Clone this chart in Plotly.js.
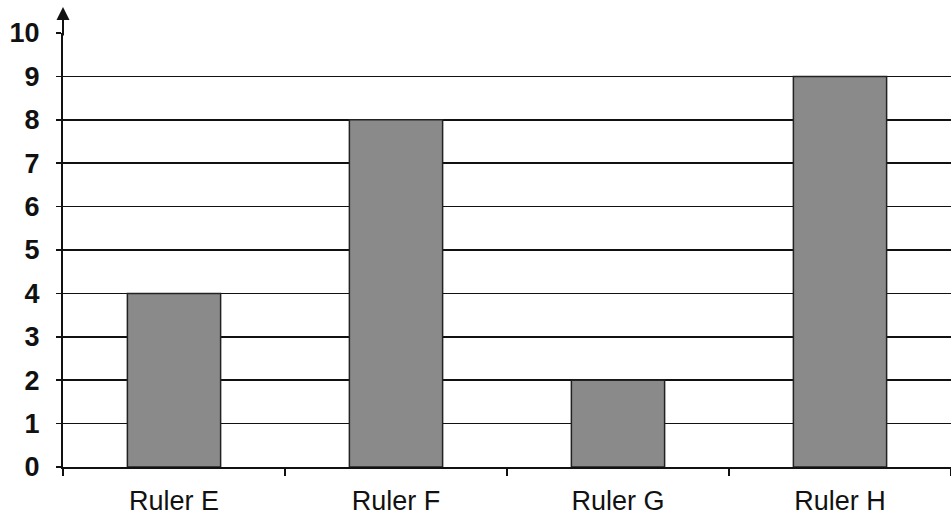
<!DOCTYPE html>
<html>
<head>
<meta charset="utf-8">
<script src="https://cdn.plot.ly/plotly-3.0.1.min.js"></script>
<style>html,body{margin:0;padding:0;background:#fff;}#chart{width:951px;height:527px;}</style>
</head>
<body>
<div id="chart"></div>
<script>
const categories = ["Ruler E", "Ruler F", "Ruler G", "Ruler H"];
const values = [4, 8, 2, 9];
const yTickVals = [0, 1, 2, 3, 4, 5, 6, 7, 8, 9, 10];

const trace = {
  type: "bar",
  x: categories,
  y: values,
  marker: { color: "#8a8a8a", line: { color: "#222", width: 1.5 } },
  hoverinfo: "skip"
};

const layout = {
  width: 951,
  height: 527,
  margin: { l: 63, r: 0, t: 33, b: 60 },
  paper_bgcolor: "#fff",
  plot_bgcolor: "#fff",
  bargap: 0.58,
  showlegend: false,
  font: { family: "Liberation Sans, Arial, sans-serif", color: "#111" },
  xaxis: {
    type: "category",
    showline: true,
    linecolor: "#111",
    linewidth: 2,
    ticks: "outside",
    tickson: "boundaries",
    ticklen: 7,
    tickwidth: 1.5,
    tickcolor: "#111",
    showgrid: false,
    tickfont: { size: 27, family: "Liberation Sans, Arial, sans-serif", color: "#111" },
    ticklabelstandoff: 9
  },
  yaxis: {
    range: [0, 10],
    tickvals: yTickVals,
    ticktext: yTickVals.map(String),
    showline: true,
    linecolor: "#111",
    linewidth: 2,
    ticks: "outside",
    ticklen: 5,
    tickwidth: 1.5,
    tickcolor: "#111",
    showgrid: true,
    gridcolor: "#111",
    gridwidth: 1.5,
    zeroline: false,
    tickfont: { size: 27, family: "Liberation Sans, Arial, sans-serif", color: "#111", weight: "bold" },
    ticklabelstandoff: 11
  },
  annotations: [{
    xref: "paper", yref: "paper",
    x: 0, y: 1.06,
    ax: 0, ay: 30,
    text: "",
    showarrow: true,
    arrowhead: 2,
    arrowsize: 1.3,
    arrowwidth: 2,
    arrowcolor: "#111"
  }]
};

Plotly.newPlot("chart", [trace], layout, { displayModeBar: false, staticPlot: true });
</script>
</body>
</html>
